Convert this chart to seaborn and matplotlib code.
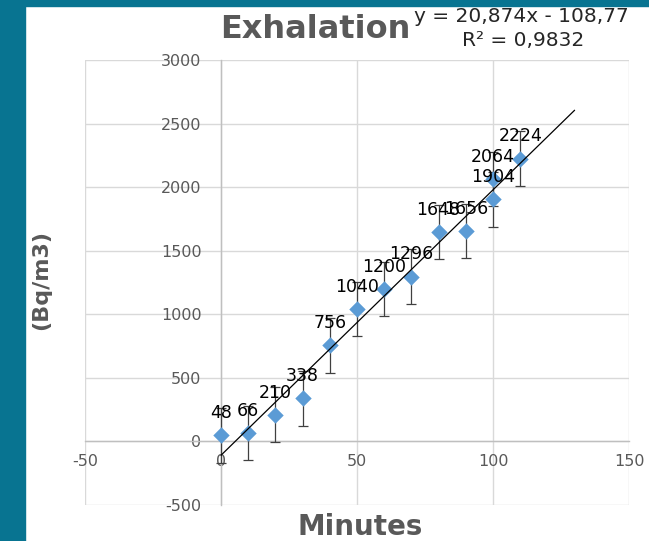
import numpy as np
import matplotlib
matplotlib.use("Agg")
import matplotlib.pyplot as plt
import seaborn as sns
from matplotlib.patches import Rectangle

# data
minutes = [0, 10, 20, 30, 40, 50, 60, 70, 80, 90, 100, 100, 110]
radon = [48, 66, 210, 338, 756, 1040, 1200, 1296, 1648, 1656, 1904, 2064, 2224]
x_ticks = [-50, 0, 50, 100, 150]
y_ticks = [-500, 0, 500, 1000, 1500, 2000, 2500, 3000]

sns.set_theme(style="white")
plt.rcParams["font.family"] = ["DejaVu Sans"]
plt.rcParams["axes.unicode_minus"] = False

GRAY = "#595959"
BLUE = "#5B9BD5"
TEAL = "#087491"

fig = plt.figure(figsize=(6.49, 5.41), dpi=100)
fig.patch.set_facecolor("white")

# teal frame on the left and top
fig.patches.append(Rectangle((0, 0), 25 / 649, 1, transform=fig.transFigure,
                             color=TEAL, zorder=0))
fig.patches.append(Rectangle((0, 1 - 6 / 541), 1, 6 / 541, transform=fig.transFigure,
                             color=TEAL, zorder=0))

ax = fig.add_axes([85 / 649, 36 / 541, 544 / 649, 445 / 541])
ax.set_facecolor("white")

# standard error bars (same for every point, as Excel does)
y = np.array(radon, dtype=float)
std_err = y.std(ddof=1) / np.sqrt(len(y))
ax.errorbar(minutes, radon, yerr=std_err, fmt="none", ecolor="#404040",
            elinewidth=0.9, capsize=3.8, capthick=0.9, zorder=3)

sns.scatterplot(x=minutes, y=radon, marker="D", s=70, color=BLUE,
                edgecolor=BLUE, linewidth=0, ax=ax, zorder=4)

# linear trend line, forecast 20 min forward
slope, intercept = np.polyfit(minutes, radon, 1)
xt = np.array([min(minutes), max(minutes) + 20])
ax.plot(xt, slope * xt + intercept, color="black", lw=0.9, zorder=5)

for xv, yv in zip(minutes, radon):
    ax.annotate(str(yv), (xv, yv), xytext=(0, 16), textcoords="offset points",
                ha="center", va="center", fontsize=12.5, color="black", zorder=6)

ax.set_xlim(-50, 150)
ax.set_ylim(-500, 3000)
ax.set_xticks(x_ticks)
ax.set_yticks(y_ticks)
ax.grid(True, color="#d9d9d9", lw=1)
ax.set_axisbelow(True)

for s in ["top", "right"]:
    ax.spines[s].set_visible(False)
ax.spines["left"].set_position(("data", 0))
ax.spines["bottom"].set_position(("data", 0))
for s in ["left", "bottom"]:
    ax.spines[s].set_color("#bfbfbf")
    ax.spines[s].set_linewidth(1)

ax.tick_params(axis="y", length=0, pad=14, labelsize=11.5, labelcolor=GRAY)
ax.tick_params(axis="x", length=0, pad=9, labelsize=11.5, labelcolor=GRAY)

fig.text(315 / 649, 1 - 30 / 541, "Exhalation", ha="center", va="center",
         fontsize=23, fontweight="bold", color=GRAY)
fig.text(521 / 649, 1 - 16 / 541, "y = 20,874x - 108,77", ha="center", va="center",
         fontsize=14.5, color="#262626")
fig.text(523 / 649, 1 - 40 / 541, "R² = 0,9832", ha="center", va="center",
         fontsize=14.5, color="#262626")
fig.text(41 / 649, 1 - 280 / 541, "(Bq/m3)", ha="center", va="center", rotation=90,
         fontsize=16, fontweight="bold", color=GRAY)
fig.text(360 / 649, 1 - 527 / 541, "Minutes", ha="center", va="center",
         fontsize=20, fontweight="bold", color=GRAY)

fig.savefig("out.png", dpi=100)
